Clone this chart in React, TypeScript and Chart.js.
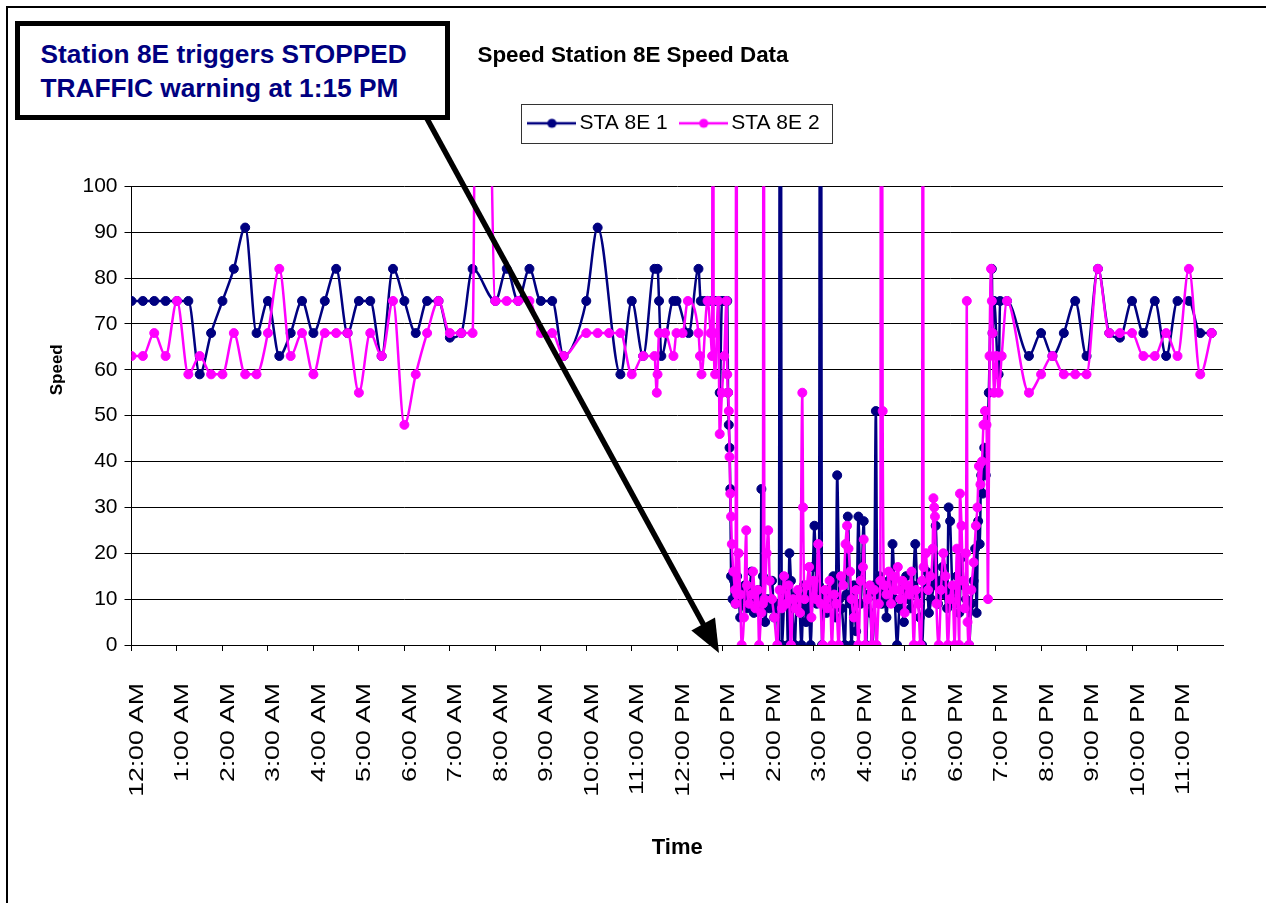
import React, { useEffect, useRef } from 'react';
import { Chart, registerables } from 'chart.js';

Chart.register(...registerables);

const FONT = "'Liberation Sans', Arial, Helvetica, sans-serif";
const NAVY = '#000080';
const MAGENTA = '#FF00FF';

const chartTitle = 'Speed Station 8E Speed Data';
const seriesNames = ['STA 8E 1', 'STA 8E 2'];
const xAxisTitle = 'Time';
const yAxisTitle = 'Speed';
const noteLines = ['Station 8E triggers STOPPED', 'TRAFFIC warning at 1:15 PM'];

const hourLabels = [
  '12:00 AM', '1:00 AM', '2:00 AM', '3:00 AM', '4:00 AM', '5:00 AM', '6:00 AM', '7:00 AM',
  '8:00 AM', '9:00 AM', '10:00 AM', '11:00 AM', '12:00 PM', '1:00 PM', '2:00 PM', '3:00 PM',
  '4:00 PM', '5:00 PM', '6:00 PM', '7:00 PM', '8:00 PM', '9:00 PM', '10:00 PM', '11:00 PM',
];

// minutes after midnight
const sta1Minutes = [
  0, 15, 30, 45, 60, 75, 90, 105, 120, 135, 150, 165, 180, 195, 210, 225, 240, 255, 270, 285,
  300, 315, 330, 345, 360, 375, 390, 405, 420, 435, 450, 480, 495, 510, 525, 540, 555, 570, 600, 615,
  645, 660, 675, 690, 694, 696, 699, 715, 719, 735, 748, 751, 755, 760, 766, 770, 774, 776, 779, 783,
  786, 787, 788, 789, 790, 791, 793, 795, 797, 799, 801, 803, 806, 809, 812, 815, 818, 821, 824, 827,
  830, 831, 833, 836, 839, 842, 845, 848, 851, 854, 856, 858, 861, 864, 866, 868, 870, 872, 875, 878,
  881, 884, 887, 890, 893, 896, 899, 901, 904, 907, 909, 911, 914, 917, 920, 923, 926, 929, 931, 934,
  937, 941, 943, 945, 948, 950, 953, 956, 959, 962, 966, 969, 972, 975, 977, 980, 982, 984, 987, 990,
  993, 996, 999, 1002, 1004, 1007, 1010, 1013, 1016, 1019, 1022, 1025, 1028, 1031, 1034, 1037, 1040, 1043, 1046, 1049,
  1052, 1055, 1058, 1061, 1064, 1067, 1070, 1073, 1076, 1078, 1080, 1083, 1086, 1089, 1092, 1095, 1098, 1101, 1104, 1105,
  1108, 1111, 1113, 1115, 1117, 1119, 1121, 1123, 1125, 1127, 1131, 1135, 1136, 1138, 1144, 1146, 1155, 1184, 1200, 1215,
  1230, 1245, 1260, 1275, 1290, 1304, 1320, 1335, 1350, 1365, 1380, 1395, 1410, 1425,
];
const sta1Speeds = [
  75, 75, 75, 75, 75, 75, 59, 68, 75, 82, 91, 68, 75, 63, 68, 75, 68, 75, 82, 68,
  75, 75, 63, 82, 75, 68, 75, 75, 67, 68, 82, 75, 82, 75, 82, 75, 75, 63, 75, 91,
  59, 75, 63, 82, 82, 75, 63, 75, 75, 68, 82, 75, 75, 75, 75, 75, 75, 55, 75, 75,
  75, 55, 48, 43, 34, 15, 10, 14, 9, 15, 12, 6, 10, 13, 8, 11, 16, 7, 10, 12,
  9, 34, 15, 5, 10, 8, 14, 6, 9, 0, 250, 0, 9, 14, 0, 20, 14, 8, 0, 11,
  9, 0, 13, 5, 11, 0, 17, 26, 9, 13, 250, 0, 10, 7, 12, 9, 15, 6, 37, 10,
  8, 0, 11, 28, 9, 0, 13, 3, 28, 9, 27, 0, 11, 7, 0, 13, 51, 10, 15, 9,
  12, 6, 14, 11, 22, 10, 0, 8, 12, 5, 15, 10, 8, 13, 22, 11, 6, 0, 12, 16,
  7, 10, 13, 26, 9, 14, 17, 11, 8, 30, 27, 12, 9, 15, 7, 19, 13, 10, 8, 0,
  9, 14, 21, 7, 27, 22, 37, 33, 43, 37, 55, 82, 68, 75, 59, 75, 75, 63, 68, 63,
  68, 75, 63, 82, 68, 67, 75, 68, 75, 63, 75, 75, 68, 68,
];

const sta2Minutes = [
  0, 15, 30, 45, 60, 75, 90, 105, 120, 135, 150, 165, 180, 195, 210, 225, 240, 255, 270, 285,
  300, 315, 330, 345, 360, 375, 390, 405, 420, 435, 450, 456, 470, 480, 495, 510, 525, 540, 555, 570,
  600, 615, 630, 645, 660, 675, 690, 693, 694, 696, 704, 715, 719, 727, 734, 748, 750, 752, 760, 764,
  766, 767, 768, 770, 774, 776, 779, 782, 785, 786, 787, 788, 789, 790, 791, 792, 794, 796, 797, 798,
  799, 801, 803, 805, 808, 811, 812, 815, 818, 820, 823, 826, 828, 831, 833, 834, 835, 838, 840, 842,
  845, 848, 852, 855, 858, 861, 864, 867, 870, 873, 876, 879, 882, 885, 886, 888, 891, 894, 897, 900,
  903, 906, 909, 912, 915, 918, 921, 924, 927, 930, 933, 936, 939, 942, 944, 946, 948, 950, 953, 956,
  959, 962, 965, 966, 968, 971, 974, 977, 980, 983, 986, 988, 989, 991, 993, 996, 999, 1002, 1005, 1008,
  1011, 1014, 1017, 1020, 1023, 1026, 1029, 1032, 1035, 1038, 1041, 1043, 1044, 1045, 1048, 1051, 1054, 1057, 1058, 1059,
  1060, 1062, 1065, 1068, 1071, 1074, 1077, 1080, 1083, 1086, 1089, 1092, 1093, 1095, 1097, 1099, 1101, 1102, 1103, 1105,
  1108, 1111, 1114, 1116, 1118, 1120, 1122, 1124, 1126, 1128, 1130, 1132, 1134, 1135, 1136, 1138, 1141, 1144, 1148, 1155,
  1184, 1200, 1215, 1230, 1245, 1260, 1275, 1290, 1304, 1320, 1335, 1350, 1365, 1380, 1395, 1410, 1425,
];
const sta2Speeds = [
  63, 63, 68, 63, 75, 59, 63, 59, 59, 68, 59, 59, 68, 82, 63, 68, 59, 68, 68, 68,
  55, 68, 63, 75, 48, 59, 68, 75, 68, 68, 68, 180, 150, 75, 75, 75, 75, 68, 68, 63,
  68, 68, 68, 68, 59, 63, 63, 55, 59, 68, 68, 63, 68, 68, 75, 68, 63, 59, 75, 68,
  63, 250, 68, 59, 75, 46, 55, 63, 75, 59, 55, 51, 41, 33, 28, 22, 16, 12, 9, 250,
  11, 20, 11, 0, 6, 25, 13, 9, 11, 16, 8, 12, 0, 7, 9, 250, 10, 20, 25, 14,
  10, 6, 0, 12, 8, 15, 9, 13, 0, 10, 8, 12, 7, 55, 30, 10, 13, 17, 6, 14,
  10, 22, 9, 0, 12, 8, 14, 0, 11, 9, 0, 15, 13, 22, 26, 21, 16, 10, 6, 12,
  0, 14, 17, 23, 0, 10, 13, 0, 12, 0, 9, 14, 250, 51, 13, 11, 16, 9, 15, 12,
  17, 10, 14, 7, 13, 11, 16, 0, 12, 9, 0, 14, 250, 17, 20, 12, 15, 21, 32, 30,
  28, 9, 0, 12, 20, 15, 0, 10, 13, 0, 21, 0, 33, 26, 14, 8, 20, 75, 5, 0,
  12, 18, 26, 30, 39, 35, 40, 48, 51, 48, 10, 63, 82, 75, 68, 55, 63, 55, 63, 75,
  55, 59, 63, 59, 59, 59, 82, 68, 68, 68, 63, 63, 68, 63, 82, 59, 68,
];

const yMin = 0;
const yMax = 100;
const yStep = 10;
const xMaxMinutes = 1440;
const xStepMinutes = 60;

function toPoints(minutes: number[], speeds: number[]) {
  return minutes.map((m, i) => ({ x: m, y: speeds[i] }));
}

function makeLegendMarker(color: string) {
  const c = document.createElement('canvas');
  c.width = 49;
  c.height = 12;
  const g = c.getContext('2d')!;
  g.strokeStyle = color;
  g.lineWidth = 2.5;
  g.beginPath();
  g.moveTo(0, 6);
  g.lineTo(49, 6);
  g.stroke();
  g.fillStyle = color;
  g.beginPath();
  g.arc(24.5, 6, 4.6, 0, Math.PI * 2);
  g.fill();
  return c;
}

const framePlugin = {
  id: 'frame',
  beforeDraw(chart: any) {
    const { ctx, width, height } = chart;
    ctx.save();
    ctx.fillStyle = '#ffffff';
    ctx.fillRect(0, 0, width, height);
    ctx.fillStyle = '#000000';
    ctx.fillRect(6, 6, width - 6, 2);
    ctx.fillRect(6, 6, 2, height - 6);
    ctx.restore();
  },
};

const legendBoxPlugin = {
  id: 'legendBox',
  afterDraw(chart: any) {
    const lg = chart.legend;
    if (!lg || !lg.legendHitBoxes || !lg.legendHitBoxes.length) return;
    const hb = lg.legendHitBoxes;
    const first = hb[0];
    const last = hb[hb.length - 1];
    const cy = first.top + first.height / 2;
    const left = first.left - 13.5;
    const right = last.left + last.width + 13;
    const { ctx } = chart;
    ctx.save();
    ctx.strokeStyle = '#333333';
    ctx.lineWidth = 1;
    ctx.strokeRect(Math.round(left) + 0.5, Math.round(cy - 19.5) + 0.5, Math.round(right - left), 39);
    ctx.restore();
  },
};

// hour labels on the time axis, read bottom-to-top like the original spreadsheet chart
const xLabelsPlugin = {
  id: 'xLabels',
  afterDraw(chart: any) {
    const xs = chart.scales.x;
    const { ctx } = chart;
    ctx.save();
    ctx.font = `20px ${FONT}`;
    ctx.fillStyle = '#000';
    ctx.textAlign = 'right';
    ctx.textBaseline = 'middle';
    xs.ticks.forEach((t: any) => {
      const idx = Math.round(t.value / xStepMinutes);
      const label = hourLabels[idx];
      if (!label) return;
      const px = xs.getPixelForValue(t.value) + 6;
      ctx.save();
      ctx.translate(px, xs.top + 38);
      ctx.rotate(-Math.PI / 2);
      ctx.scale(1.33, 1);
      ctx.fillText(label, 0, 0);
      ctx.restore();
    });
    ctx.restore();
  },
};

const yTitlePlugin = {
  id: 'yTitle',
  afterDraw(chart: any) {
    const { ctx, chartArea } = chart;
    ctx.save();
    ctx.translate(chartArea.left - 74.5, chartArea.top + chartArea.height * 0.4);
    ctx.rotate(-Math.PI / 2);
    ctx.font = `bold 17px ${FONT}`;
    ctx.fillStyle = '#000';
    ctx.textAlign = 'center';
    ctx.textBaseline = 'middle';
    ctx.fillText(yAxisTitle, 0, 0);
    ctx.restore();
  },
};

export default function App() {
  const canvasRef = useRef<HTMLCanvasElement | null>(null);

  useEffect(() => {
    if (!canvasRef.current) return;
    const markers = [makeLegendMarker(NAVY), makeLegendMarker(MAGENTA)];
    const chart = new Chart(canvasRef.current, {
      type: 'line',
      data: {
        datasets: [
          {
            label: seriesNames[0],
            data: toPoints(sta1Minutes, sta1Speeds),
            borderColor: NAVY,
            backgroundColor: NAVY,
            pointBackgroundColor: NAVY,
            pointBorderColor: NAVY,
            borderWidth: 2.5,
            pointRadius: 4.5,
            pointBorderWidth: 1,
            cubicInterpolationMode: 'monotone',
            order: 1,
          },
          {
            label: seriesNames[1],
            data: toPoints(sta2Minutes, sta2Speeds),
            borderColor: MAGENTA,
            backgroundColor: MAGENTA,
            pointBackgroundColor: MAGENTA,
            pointBorderColor: MAGENTA,
            borderWidth: 2.5,
            pointRadius: 4.5,
            pointBorderWidth: 1,
            cubicInterpolationMode: 'monotone',
            order: 0,
          },
        ],
      },
      options: {
        animation: false,
        responsive: true,
        maintainAspectRatio: false,
        events: [],
        layout: { padding: { left: 0, right: 0, top: 0, bottom: 0 } },
        plugins: {
          title: {
            display: true,
            text: chartTitle,
            color: '#000',
            font: { family: FONT, size: 22.4, weight: 'bold', lineHeight: 1.2 },
            padding: { top: 42.6, bottom: 24.3 },
          },
          subtitle: {
            display: true,
            text: '',
            weight: 500,
            font: { family: FONT, size: 10, lineHeight: 1 },
            padding: { top: 0, bottom: 32.5 },
          },
          legend: {
            display: true,
            fullSize: false,
            labels: {
              usePointStyle: true,
              pointStyleWidth: 34,
              padding: 19,
              color: '#000',
              font: { family: FONT, size: 21 },
              sort: (a: any, b: any) => a.datasetIndex - b.datasetIndex,
              generateLabels: (chart: any) => {
                const items = Chart.defaults.plugins.legend.labels.generateLabels(chart);
                return items.map((it: any) => ({ ...it, pointStyle: markers[it.datasetIndex] }));
              },
            },
          },
          tooltip: { enabled: false },
        },
        scales: {
          x: {
            type: 'linear',
            min: 0,
            max: xMaxMinutes,
            afterBuildTicks: (s: any) => {
              s.ticks = s.ticks.filter((t: any) => t.value < xMaxMinutes);
            },
            afterFit: (s: any) => {
              s.height = 258;
              s.paddingLeft = 0;
              s.paddingRight = 43;
            },
            grid: { drawOnChartArea: false, drawTicks: true, tickLength: 6, color: '#000', tickColor: '#000' },
            border: { display: true, color: '#000', width: 1 },
            ticks: {
              display: false,
              stepSize: xStepMinutes,
              includeBounds: false,
              autoSkip: false,
            },
            title: {
              display: true,
              text: xAxisTitle,
              color: '#000',
              font: { family: FONT, size: 22, weight: 'bold', lineHeight: 1.2 },
              padding: { top: 0, bottom: 41.8 },
            },
          },
          y: {
            min: yMin,
            max: yMax,
            afterFit: (s: any) => {
              s.width = 131.5;
            },
            grid: { color: '#000', lineWidth: 1, tickLength: 7, tickColor: '#000' },
            border: { display: true, color: '#000', width: 1 },
            ticks: {
              stepSize: yStep,
              padding: 7,
              color: '#000',
              font: { family: FONT, size: 21 },
            },
          },
        },
      },
      plugins: [framePlugin, legendBoxPlugin, xLabelsPlugin, yTitlePlugin],
    } as any);
    return () => chart.destroy();
  }, []);

  // arrow geometry
  const tip = { x: 719, y: 653 };
  const tail = { x: 425, y: 115 };
  const dx = tip.x - tail.x;
  const dy = tip.y - tail.y;
  const len = Math.sqrt(dx * dx + dy * dy);
  const ux = dx / len;
  const uy = dy / len;
  const headLen = 33;
  const headHalf = 13.5;
  const bx = tip.x - ux * headLen;
  const by = tip.y - uy * headLen;
  const c1 = `${bx - uy * headHalf},${by + ux * headHalf}`;
  const c2 = `${bx + uy * headHalf},${by - ux * headHalf}`;

  return (
    <div style={{ position: 'absolute', left: 0, top: 0, width: 1266, height: 903, overflow: 'hidden', background: '#fff' }}>
      <canvas ref={canvasRef} style={{ position: 'absolute', left: 0, top: 0 }} />
      <svg width={1266} height={903} style={{ position: 'absolute', left: 0, top: 0, pointerEvents: 'none' }}>
        <line x1={tail.x} y1={tail.y} x2={bx + ux * 2} y2={by + uy * 2} stroke="#000" strokeWidth={5.5} />
        <polygon points={`${tip.x},${tip.y} ${c1} ${c2}`} fill="#000" />
      </svg>
      <div
        style={{
          position: 'absolute',
          left: 15,
          top: 21,
          width: 435,
          height: 99,
          boxSizing: 'border-box',
          border: '5.5px solid #000',
          background: '#fff',
          padding: '10.5px 0 0 20.5px',
          fontFamily: FONT,
          fontWeight: 'bold',
          fontSize: 26.3,
          lineHeight: '34px',
          color: NAVY,
          whiteSpace: 'nowrap',
        }}
      >
        <div>{noteLines[0]}</div>
        <div>{noteLines[1]}</div>
      </div>
    </div>
  );
}
